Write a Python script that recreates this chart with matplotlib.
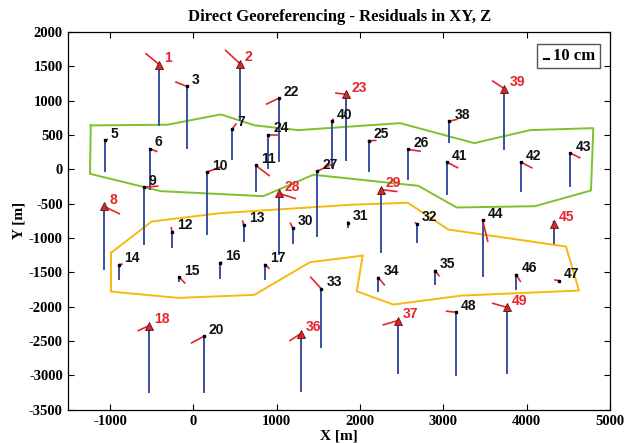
import matplotlib
matplotlib.use("Agg")
import matplotlib.pyplot as plt
from matplotlib.patches import Rectangle

# ---- data (plot units: metres on the map; residual vectors already scaled) ----
ids = [1, 2, 3, 22, 40, 23, 7, 24, 5, 6, 10, 11, 27, 9, 28, 8, 12, 13, 30, 31,
       14, 15, 16, 17, 33, 18, 20, 36, 39, 38, 25, 26, 41, 42, 43, 29, 32, 44,
       45, 34, 35, 46, 47, 37, 48, 49]
X = [-408, 560, -76, 1028, 1661, 1838, 468, 900, -1056, -520, 161, 749, 1488,
     -592, 1032, -1068, -256, 605, 1193, 1856, -888, -168, 324, 860, 1536, -528,
     128, 1289, 3732, 3072, 2105, 2580, 3044, 3929, 4524, 2252, 2681, 3473,
     4328, 2220, 2900, 3876, 4388, 2456, 3152, 3761]
Y = [1524, 1538, 1207, 1037, 701, 1091, 590, 503, 424, 299, -42, 55, -28,
     -261, -353, -542, -907, -809, -853, -780, -1388, -1573, -1363, -1388, -1742,
     -2277, -2433, -2394, 1174, 701, 416, 289, 104, 104, 235, -295, -795, -746,
     -795, -1578, -1475, -1534, -1623, -2204, -2083, -2011]
# Z residual (drawn downward)
dZ = [875, 827, 900, 923, 671, 962, 437, 487, 452, 583, 898, 365, 948, 835, 879,
      918, 219, 229, 219, 64, 208, 48, 225, 208, 853, 972, 816, 831, 875, 306,
      443, 437, 461, 423, 481, 904, 258, 816, 283, 200, 194, 209, 5, 768, 908, 962]
# XY residual vector
dE = [-160, -172, -132, -148, 15, -126, 44, 100, 25, 80, 160, 160, 160, 164, 192,
      180, -8, -12, -28, 0, 32, 64, 12, 48, -127, -132, -148, -128, -139, 89, 84,
      140, 128, 132, 113, 188, -16, 60, -8, 72, 48, 48, -48, -176, -112, -168]
dN = [160, 194, 63, -87, 25, 19, 70, 0, 10, -39, 73, -146, 93, 15, -73, -106, 55,
      53, 67, 15, 5, -83, 10, -54, 169, -73, -96, -102, 111, 25, 4, -25, -82, -82,
      -67, -29, 15, -302, 30, -106, -77, -98, 10, -63, 15, 58]
control = [1, 2, 8, 18, 23, 28, 29, 36, 37, 39, 45, 49]

green_x = [-1231, -312, 329, 740, 1260, 2480, 3372, 4040, 4800, 4772, 4100, 3161,
           2700, 1440, 840, -391, -1240, -1231]
green_y = [639, 649, 799, 639, 570, 672, 381, 570, 599, -309, -538, -557,
           -241, -80, -392, -319, -66, 639]
yellow_x = [-988, -499, 320, 1880, 2573, 3060, 4472, 4628, 3221, 2400, 1961, 2033,
            1880, 1400, 732, -180, -988, -988]
yellow_y = [-1217, -761, -640, -518, -488, -878, -1126, -1767, -1840, -1971, -1777,
            -1257, -1282, -1354, -1830, -1874, -1782, -1217]

xticks = [-1000, 0, 1000, 2000, 3000, 4000, 5000]
yticks = [2000, 1500, 1000, 500, 0, -500, -1000, -1500, -2000, -2500, -3000, -3500]

BLUE = "#3a4fa3"
RED = "#e8232b"
GREEN = "#7cc22a"
YELLOW = "#f6b90e"
serif = "Liberation Serif"
sans = "Liberation Sans"

fig = plt.figure(figsize=(6.35, 4.43), dpi=100)
ax = fig.add_axes([0.1076, 0.0756, 0.8530, 0.8522])

ax.plot(green_x, green_y, color=GREEN, lw=1.4, zorder=2)
ax.plot(yellow_x, yellow_y, color=YELLOW, lw=1.4, zorder=2)

for i, pid in enumerate(ids):
    x, y = X[i], Y[i]
    ax.plot([x, x], [y, y - dZ[i]], color=BLUE, lw=1.4, zorder=3)
    ax.plot([x, x + dE[i]], [y, y + dN[i]], color=RED, lw=1.2, zorder=4)
    is_ctrl = pid in control
    if is_ctrl:
        ax.plot([x], [y], marker="^", ms=6, mfc="#d42a25", mec="#5a1010",
                mew=0.6, zorder=5)
    else:
        ax.plot([x], [y], marker="s", ms=1.5, color="black", zorder=5)
    ax.annotate(str(pid), (x, y), xytext=(5, 6.5), textcoords="offset pixels",
                ha="left", va="center", fontsize=10, fontweight="bold",
                family=sans, color=RED if is_ctrl else "#111111", zorder=6)

ax.set_xlim(-1500, 5000)
ax.set_ylim(-3500, 2000)
ax.set_xticks(xticks)
ax.set_yticks(yticks)
ax.set_xticklabels([str(v) for v in xticks])
ax.set_yticklabels([str(v) for v in yticks])
ax.tick_params(direction="in", length=4, width=0.8, top=True, right=True,
               labelsize=10.5, pad=4)
for lab in ax.get_xticklabels() + ax.get_yticklabels():
    lab.set_family(serif)
    lab.set_fontweight("bold")
for s in ax.spines.values():
    s.set_linewidth(0.9)

ax.set_title("Direct Georeferencing - Residuals in XY, Z", family=serif,
             fontweight="bold", fontsize=12, pad=8)
ax.set_xlabel("X [m]", family=serif, fontweight="bold", fontsize=11, labelpad=1)
ax.set_ylabel("Y [m]", family=serif, fontweight="bold", fontsize=11, labelpad=2)

# scale box
ax.add_patch(Rectangle((0.865, 0.905), 0.117, 0.063, transform=ax.transAxes,
                       fill=True, fc="white", ec="#555555", lw=1.0, zorder=7))
ax.plot([0.878, 0.888], [0.928, 0.928], transform=ax.transAxes, color="black",
        lw=1.5, zorder=8)
ax.text(0.895, 0.936, "10 cm", transform=ax.transAxes, ha="left", va="center",
        family=serif, fontweight="bold", fontsize=12, zorder=8)

fig.savefig("out.png", dpi=100)
